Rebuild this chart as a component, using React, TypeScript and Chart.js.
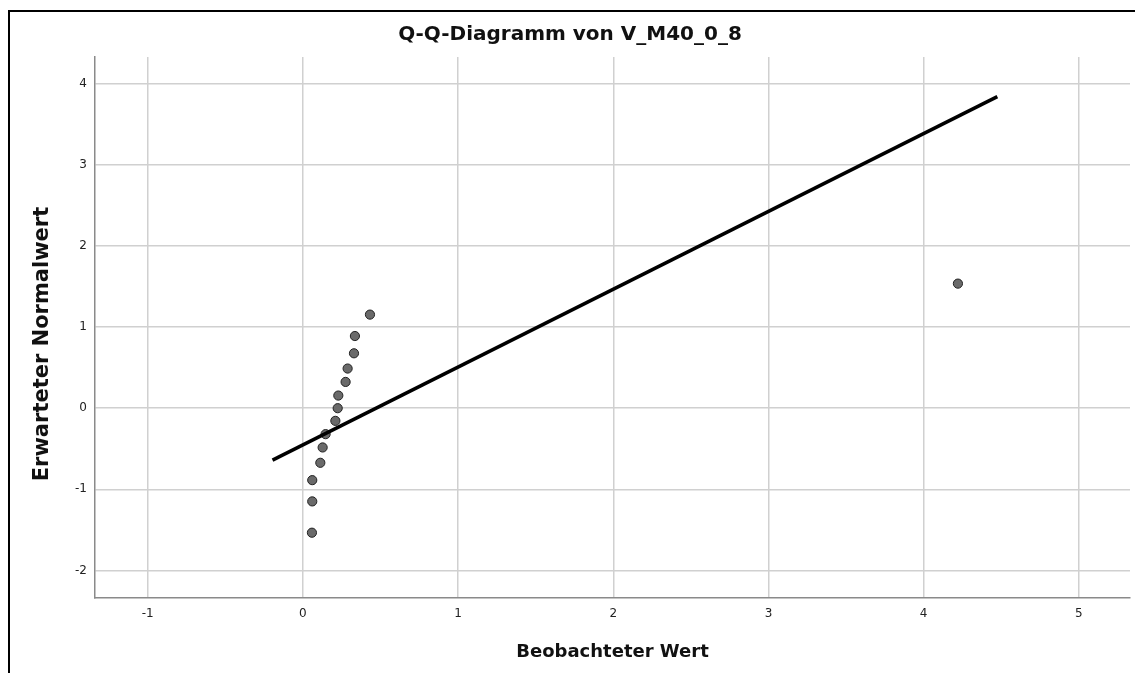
import React, { useEffect, useRef } from "react";
import { Chart, registerables } from "chart.js";

Chart.register(...registerables);

const titleText = "Q-Q-Diagramm von V_M40_0_8";
const xTitle = "Beobachteter Wert";
const yTitle = "Erwarteter Normalwert";

const observed = [0.058, 0.06, 0.06, 0.112, 0.127, 0.146, 0.209, 0.224, 0.228, 0.275, 0.288, 0.329, 0.335, 0.432, 4.221];
const expected = [-1.535, -1.149, -0.887, -0.673, -0.484, -0.32, -0.156, 0.0, 0.156, 0.324, 0.489, 0.677, 0.89, 1.154, 1.536];

const lineX = [-0.196, 4.475];
const lineY = [-0.64, 3.842];

const xRange = [-1.34, 5.33];
const yRange = [-2.34, 4.33];

const FONT = "'DejaVu Sans', Verdana, sans-serif";

const axisTitles = {
  id: "axisTitles",
  afterDraw(chart: any) {
    const { ctx, chartArea } = chart;
    ctx.save();
    ctx.fillStyle = "#111";
    ctx.textAlign = "center";
    ctx.textBaseline = "middle";
    ctx.font = `bold 18px ${FONT}`;
    ctx.fillText(xTitle, (chartArea.left + chartArea.right) / 2, 640);
    ctx.font = `bold 21px ${FONT}`;
    ctx.translate(33, 332);
    ctx.rotate(-Math.PI / 2);
    ctx.fillText(yTitle, 0, 0);
    ctx.restore();
  },
};

export default function App() {
  const ref = useRef<HTMLCanvasElement>(null);

  useEffect(() => {
    document.body.style.overflow = "hidden";
    if (!ref.current) return;
    const chart = new Chart(ref.current, {
      type: "scatter",
      data: {
        datasets: [
          {
            type: "line",
            data: lineX.map((x, i) => ({ x, y: lineY[i] })),
            borderColor: "#000",
            borderWidth: 3.5,
            pointRadius: 0,
            fill: false,
            order: 0,
          } as any,
          {
            data: observed.map((x, i) => ({ x, y: expected[i] })),
            backgroundColor: "#6a6a6a",
            borderColor: "#222",
            borderWidth: 1,
            pointRadius: 4.6,
            order: 1,
          },
        ],
      },
      options: {
        responsive: false,
        animation: false,
        devicePixelRatio: 1,
        layout: { padding: { left: 0, right: 13, top: 0, bottom: 0 } },
        plugins: {
          legend: { display: false },
          tooltip: { enabled: false },
          title: {
            display: true,
            text: titleText,
            color: "#111",
            font: { family: FONT, size: 20, weight: "bold", lineHeight: 1.25 },
            padding: { top: 10, bottom: 10 },
          },
        },
        scales: {
          x: {
            type: "linear",
            min: xRange[0],
            max: xRange[1],
            afterFit: (s: any) => {
              s.height = 77;
            },
            ticks: {
              stepSize: 1,
              includeBounds: false,
              color: "#222",
              font: { family: FONT, size: 12 },
              padding: 9,
              maxRotation: 0,
            },
            grid: { color: "#d0d0d0", lineWidth: 1.5, drawTicks: false },
            border: { color: "#8a8a8a", width: 1.5 },
          },
          y: {
            type: "linear",
            min: yRange[0],
            max: yRange[1],
            afterFit: (s: any) => {
              s.width = 85;
            },
            ticks: {
              stepSize: 1,
              includeBounds: false,
              color: "#222",
              font: { family: FONT, size: 12 },
              padding: 8,
            },
            grid: { color: "#d0d0d0", lineWidth: 1.5, drawTicks: false },
            border: { color: "#8a8a8a", width: 1.5 },
          },
        },
      },
      plugins: [axisTitles],
    });
    return () => chart.destroy();
  }, []);

  return (
    <div
      style={{
        position: "relative",
        top: 2,
        width: 1133,
        height: 663,
        borderTop: "2px solid #000",
        borderLeft: "2px solid #000",
        background: "#fff",
      }}
    >
      <canvas ref={ref} width={1133} height={663} style={{ display: "block" }} />
    </div>
  );
}
